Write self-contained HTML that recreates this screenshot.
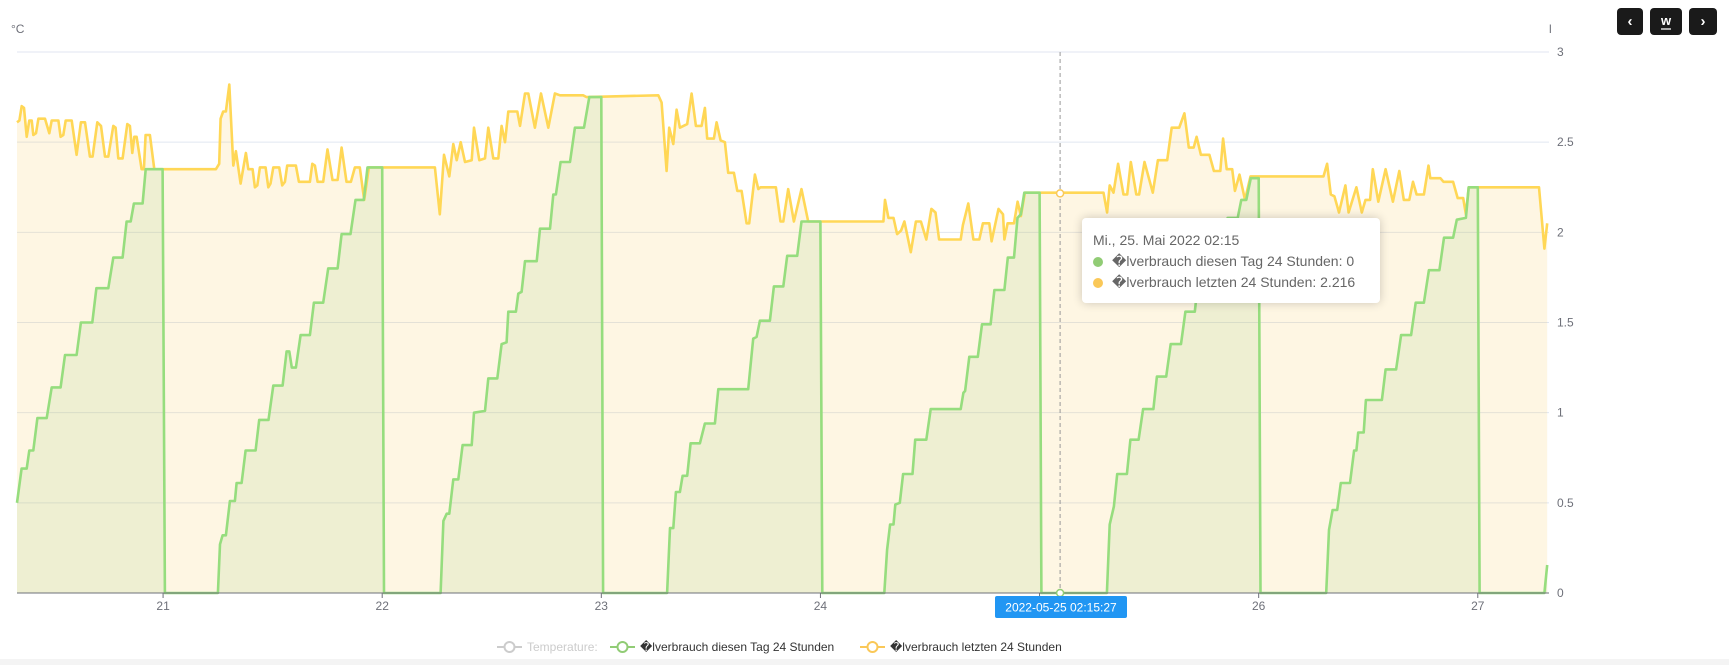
<!DOCTYPE html>
<html><head><meta charset="utf-8">
<style>
body{margin:0;background:#fff;width:1729px;height:665px;overflow:hidden;font-family:"Liberation Sans",sans-serif;}
#wrap{position:relative;width:1729px;height:665px;}
.btn{position:absolute;top:8px;height:27px;background:#1a1a1a;border-radius:4px;color:#fff;display:flex;align-items:center;justify-content:center;font-size:15px;font-weight:bold;}
#tip{position:absolute;left:1082px;top:218px;width:298px;height:85px;background:#fff;border-radius:4px;box-shadow:0 0 10px rgba(0,0,0,0.2);box-sizing:border-box;padding:12px 0 0 11px;font-size:14px;color:#666;line-height:21px;}
.dot{display:inline-block;width:10px;height:10px;border-radius:5px;margin-right:9px;vertical-align:-1px;}
#bottom{position:absolute;left:0;top:659px;width:1729px;height:6px;background:#f4f4f4;}
</style></head>
<body><div id="wrap">
<svg id="chart" width="1729" height="665" style="position:absolute;left:0;top:0"></svg>
<div class="btn" style="left:1617px;width:26px">&#8249;</div>
<div class="btn" style="left:1650px;width:32px;font-size:13px"><span style="border-bottom:2px solid #aaa;line-height:14px">w</span></div>
<div class="btn" style="left:1689px;width:28px">&#8250;</div>
<div id="tip">
<div>Mi., 25. Mai 2022 02:15</div>
<div><span class="dot" style="background:#91cc75"></span>�lverbrauch diesen Tag 24 Stunden: 0</div>
<div><span class="dot" style="background:#fac858"></span>�lverbrauch letzten 24 Stunden: 2.216</div>
</div>
<div id="bottom"></div>
</div>
<script>
const xTickLabels=['21','22','23','24','25','26','27'];
const xTickHours=[24,48,72,96,120,144,168];
const yTickValues=[0,0.5,1,1.5,2,2.5,3];
const yTickLabels=['0','0.5','1','1.5','2','2.5','3'];
const greenHours=[8,8.5,9.06,9.35,9.79,10.23,11.25,11.8,12.78,13.26,14.53,15.0,16.25,16.7,18.0,18.55,19.57,20.0,20.45,20.8,21.76,22.1,23.95,24.2,
30.0,30.23,30.52,30.88,31.32,31.87,32.05,32.6,33.04,34.13,34.53,35.55,36.07,37.09,37.53,37.82,38.1,38.55,39.06,40.08,40.52,41.54,42.09,43.11,43.55,44.53,45.08,45.99,46.39,48.0,48.2,
54.4,54.7,55.06,55.35,55.79,56.34,56.81,57.8,58.05,59.26,59.62,60.61,61.08,61.63,61.81,62.65,62.91,63.27,63.64,64.92,65.28,66.38,66.74,67.03,67.54,68.57,69.11,70.1,70.68,72.0,72.2,
79.2,79.52,79.88,80.17,80.61,80.9,81.41,81.78,82.8,83.35,84.44,84.81,88.09,88.64,89.01,89.37,90.47,90.9,91.93,92.36,93.46,93.93,96.0,96.2,
103.0,103.3,103.63,104.0,104.2,104.69,105.06,106.08,106.38,107.6,108.08,111.36,111.66,111.85,112.3,113.24,113.7,114.64,115.05,116.15,116.52,117.2,117.58,117.96,118.33,120.0,120.2,
127.38,127.68,128.14,128.51,129.57,129.95,130.85,131.34,132.47,132.85,133.87,134.36,135.49,135.98,137.0,137.4,138.6,139.0,140.2,140.6,141.7,142.1,142.65,143.14,144.0,144.2,
151.4,151.7,152.1,152.6,153.0,154.0,154.45,154.7,154.9,155.5,155.75,157.5,157.9,159.05,159.6,160.7,161.2,162.1,162.65,163.8,164.3,165.3,165.7,166.7,167.0,168.0,168.2,175.3,175.6];
const greenValues=[0.5,0.69,0.69,0.79,0.79,0.97,0.97,1.14,1.14,1.32,1.32,1.5,1.5,1.69,1.69,1.86,1.86,2.06,2.06,2.16,2.16,2.35,2.35,0,
0,0.27,0.32,0.32,0.51,0.51,0.61,0.61,0.79,0.79,0.96,0.96,1.15,1.15,1.34,1.34,1.25,1.25,1.43,1.43,1.61,1.61,1.8,1.8,1.99,1.99,2.18,2.18,2.36,2.36,0,
0,0.40,0.44,0.44,0.63,0.63,0.82,0.82,1.0,1.01,1.19,1.19,1.38,1.39,1.56,1.56,1.66,1.67,1.84,1.84,2.02,2.02,2.21,2.21,2.39,2.39,2.58,2.58,2.75,2.75,0,
0,0.36,0.36,0.56,0.56,0.65,0.65,0.83,0.83,0.94,0.94,1.13,1.13,1.41,1.42,1.51,1.51,1.70,1.70,1.87,1.87,2.06,2.06,0,
0,0.24,0.38,0.38,0.49,0.50,0.66,0.66,0.85,0.85,1.02,1.02,1.11,1.12,1.31,1.31,1.49,1.49,1.68,1.68,1.86,1.86,2.08,2.10,2.22,2.22,0,
0,0.38,0.48,0.66,0.66,0.85,0.85,1.02,1.02,1.2,1.2,1.38,1.38,1.56,1.56,1.74,1.74,1.92,1.92,2.08,2.08,2.18,2.18,2.30,2.30,0,
0,0.35,0.46,0.46,0.61,0.61,0.79,0.79,0.89,0.89,1.07,1.07,1.24,1.24,1.43,1.43,1.61,1.61,1.79,1.79,1.97,1.97,2.07,2.08,2.25,2.25,0,0,0.155];
const yellowHours=[8.0,8.26,8.51,8.77,9.06,9.35,9.61,9.79,10.08,10.34,11.07,11.54,11.8,12.53,12.78,13.07,13.33,13.99,14.53,15.0,15.45,15.99,16.28,16.8,17.2,17.64,18.0,18.55,18.8,19.09,19.57,20.08,20.37,20.63,20.85,21.1,21.65,21.9,22.09,22.56,23.04,29.79,30.15,30.3,30.59,30.88,31.25,31.69,31.98,32.49,33.07,33.33,33.8,34.06,34.32,34.6,35.23,35.52,35.77,36.07,36.72,37.05,37.34,37.6,38.55,38.88,40.08,40.34,40.63,40.92,41.54,42.01,42.56,43.11,43.55,44.09,44.57,45.01,45.55,46.03,46.54,53.77,54.31,54.77,55.35,55.79,56.16,56.6,57.07,57.8,58.05,58.64,59.26,59.62,60.17,60.72,61.08,61.45,61.81,62.8,63.09,63.64,64.0,64.73,65.39,66.19,66.92,67.47,70.0,70.39,78.24,78.6,79.15,79.44,79.88,80.25,80.61,81.41,81.89,82.36,82.98,83.35,83.6,84.33,84.63,85.06,85.54,85.9,86.52,86.89,87.36,87.91,88.2,88.82,89.19,89.44,90.47,91.12,91.63,91.93,92.47,93.09,93.93,94.66,102.9,103.07,103.44,104.0,104.4,104.84,105.2,105.9,106.46,107.0,107.6,108.15,108.6,109.0,111.36,111.6,112.2,112.75,113.4,113.8,114.5,114.75,115.5,116.0,116.15,116.5,117.2,117.6,117.96,118.4,127.0,127.4,127.68,128.1,128.6,129.2,129.6,130.0,130.6,130.9,131.5,132.4,132.96,133.98,134.47,135.3,135.86,136.35,136.88,137.2,137.67,138.6,139.1,139.8,140.1,140.5,141.1,141.4,141.9,142.5,143.1,151.1,151.5,151.9,152.3,152.8,153.5,153.85,154.7,155.3,155.7,156.2,156.5,157.1,157.9,158.7,159.4,159.9,160.5,160.9,161.3,162.1,162.6,162.8,163.9,164.25,165.3,165.8,166.4,166.7,167.0,174.7,175.3,175.6];
const yellowValues=[2.61,2.62,2.70,2.69,2.53,2.62,2.62,2.54,2.55,2.63,2.63,2.55,2.62,2.62,2.53,2.54,2.62,2.62,2.43,2.61,2.61,2.42,2.42,2.61,2.59,2.42,2.42,2.59,2.58,2.41,2.41,2.60,2.59,2.44,2.53,2.53,2.35,2.35,2.54,2.54,2.35,2.35,2.38,2.63,2.67,2.67,2.82,2.37,2.45,2.27,2.44,2.35,2.35,2.25,2.26,2.36,2.36,2.25,2.27,2.36,2.36,2.26,2.28,2.37,2.37,2.28,2.28,2.38,2.37,2.28,2.28,2.46,2.29,2.29,2.47,2.28,2.28,2.36,2.36,2.18,2.36,2.36,2.10,2.43,2.31,2.49,2.40,2.50,2.39,2.40,2.58,2.40,2.41,2.58,2.41,2.41,2.59,2.50,2.67,2.67,2.59,2.77,2.77,2.58,2.77,2.58,2.77,2.76,2.76,2.75,2.76,2.72,2.34,2.58,2.49,2.68,2.58,2.60,2.77,2.59,2.59,2.69,2.52,2.52,2.61,2.51,2.50,2.33,2.33,2.23,2.23,2.05,2.05,2.32,2.24,2.25,2.25,2.25,2.06,2.06,2.24,2.06,2.24,2.06,2.06,2.18,2.08,2.08,1.99,2.01,2.06,1.89,2.06,2.06,1.96,2.13,2.11,1.96,1.96,2.04,2.16,1.96,1.96,2.05,2.05,1.95,2.13,2.10,1.96,2.05,2.05,2.17,2.09,2.22,2.22,2.11,2.26,2.22,2.38,2.21,2.21,2.39,2.21,2.21,2.39,2.22,2.40,2.40,2.58,2.58,2.66,2.47,2.47,2.53,2.43,2.43,2.34,2.34,2.52,2.35,2.35,2.23,2.32,2.18,2.31,2.31,2.38,2.21,2.20,2.11,2.26,2.11,2.25,2.11,2.18,2.18,2.35,2.17,2.35,2.17,2.34,2.18,2.18,2.28,2.21,2.21,2.37,2.30,2.30,2.28,2.28,2.19,2.19,2.10,2.25,2.25,1.91,2.05];

const NS='http://www.w3.org/2000/svg';
const svg=document.getElementById('chart');
const X0=17,X1=1549,H0=8,H1=175.8,Y0=593,Y3=52;
function xs(h){return X0+(h-H0)*(X1-X0)/(H1-H0);}
function ys(v){return Y0-v*(Y0-Y3)/3;}
function mk(tag,attrs,name){const e=document.createElementNS(NS,tag);for(const k in attrs)e.setAttribute(k,attrs[k]);


svg.appendChild(e);return e;}
yTickValues.forEach((v,i)=>{
 if(v>0){mk('line',{x1:X0,x2:X1,y1:ys(v),y2:ys(v),stroke:'#e0e6f1','stroke-width':1},'gridline');}
 const t=mk('text',{x:1557,y:ys(v)+4,'font-size':12,fill:'#6e7079','font-family':'Liberation Sans, sans-serif'},'y-tick-label');t.textContent=yTickLabels[i];
});
function pts(hs,vs){return hs.map((h,i)=>xs(h).toFixed(1)+','+ys(vs[i]).toFixed(1)).join(' ');}
function area(hs,vs){return xs(hs[0]).toFixed(1)+','+Y0+' '+pts(hs,vs)+' '+xs(hs[hs.length-1]).toFixed(1)+','+Y0;}
mk('polygon',{points:area(yellowHours,yellowValues),fill:'#fac858','fill-opacity':0.17},'yellow-area');
mk('polygon',{points:area(greenHours,greenValues),fill:'#91cc75','fill-opacity':0.15},'green-area');
mk('polyline',{points:pts(yellowHours,yellowValues),fill:'none',stroke:'#ffd756','stroke-width':2.6,'stroke-linejoin':'round'},'yellow-line');
mk('polyline',{points:pts(greenHours,greenValues),fill:'none',stroke:'#96dd7e','stroke-width':2.6,'stroke-linejoin':'round'},'green-line');
mk('line',{x1:X0,x2:X1,y1:Y0,y2:Y0,stroke:'#6e7079','stroke-width':1},'x-axis-line');
xTickHours.forEach((h,i)=>{
 mk('line',{x1:xs(h),x2:xs(h),y1:Y0,y2:Y0+5,stroke:'#6e7079'},'x-tick');
 const t=mk('text',{x:xs(h),y:610,'font-size':12,fill:'#6e7079','text-anchor':'middle','font-family':'Liberation Sans, sans-serif'},'x-tick-label');t.textContent=xTickLabels[i];
});
let t=mk('text',{x:11,y:33,'font-size':12,fill:'#6e7079','font-family':'Liberation Sans, sans-serif'},'left-axis-unit');t.textContent='°C';
t=mk('text',{x:1549,y:33,'font-size':12,fill:'#6e7079','font-family':'Liberation Sans, sans-serif'},'right-axis-unit');t.textContent='l';
const hoverH=122.25;
mk('line',{x1:xs(hoverH),x2:xs(hoverH),y1:Y3,y2:Y0,stroke:'#999','stroke-dasharray':'4,3','stroke-width':1},'crosshair');
mk('circle',{cx:xs(hoverH),cy:ys(2.216),r:3.5,fill:'#fff',stroke:'#fac858','stroke-width':1.5},'hover-point-yellow');
mk('circle',{cx:xs(hoverH),cy:ys(0),r:3.5,fill:'#fff',stroke:'#91cc75','stroke-width':1.5},'hover-point-green');
mk('rect',{x:995,y:596,width:132,height:22,rx:2,fill:'#2196f3'},'crosshair-label-box');
t=mk('text',{x:1061,y:611.5,'font-size':12,fill:'#fff','text-anchor':'middle','font-family':'Liberation Sans, sans-serif'},'crosshair-label');t.textContent='2022-05-25 02:15:27';
function legend(x,color,label,tc,name){
 mk('line',{x1:x,x2:x+25,y1:647,y2:647,stroke:color,'stroke-width':2},name+'-icon-line');
 mk('circle',{cx:x+12.5,cy:647,r:5,fill:'#fff',stroke:color,'stroke-width':2},name+'-icon');
 const e=mk('text',{x:x+30,y:651,'font-size':12,fill:tc,'font-family':'Liberation Sans, sans-serif'},name);e.textContent=label;
 
}
legend(497,'#ccc','Temperature:','#ccc','legend-temperature');
legend(610,'#91cc75','�lverbrauch diesen Tag 24 Stunden','#333','legend-green');
legend(860,'#fac858','�lverbrauch letzten 24 Stunden','#333','legend-yellow');
</script>
</body></html>
